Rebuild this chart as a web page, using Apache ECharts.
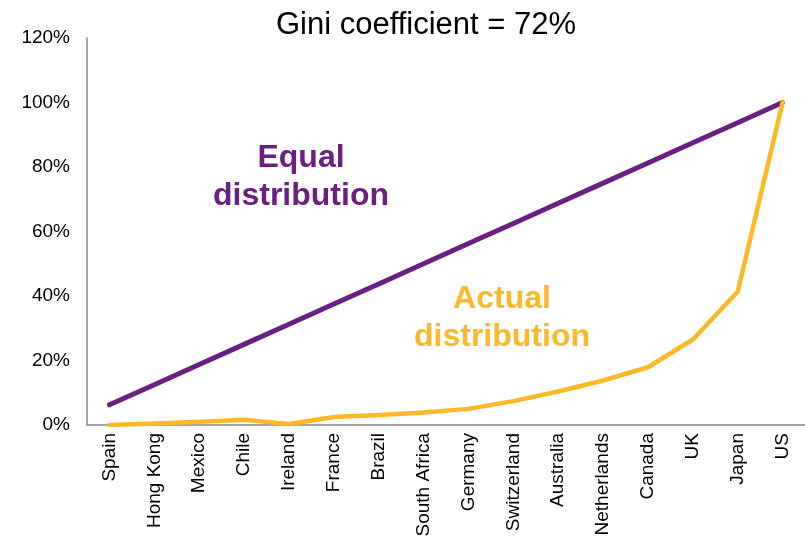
<!DOCTYPE html>
<html>
<head>
<meta charset="utf-8">
<script src="https://cdn.jsdelivr.net/npm/echarts@6/dist/echarts.min.js"></script>
<style>
  html, body { margin: 0; padding: 0; background: #fff; }
  #chart { width: 805px; height: 557px; }
</style>
</head>
<body>
<div id="chart"></div>
<script>
// 国家（按实际分布从低到高排列）
var countries = ["Spain", "Hong Kong", "Mexico", "Chile", "Ireland", "France", "Brazil",
  "South Africa", "Germany", "Switzerland", "Australia", "Netherlands", "Canada", "UK", "Japan", "US"];
// 平均分布（%）
var equalShare = [6.25, 12.5, 18.75, 25, 31.25, 37.5, 43.75, 50, 56.25, 62.5, 68.75, 75, 81.25, 87.5, 93.75, 100];
// 实际分布（%）
var actualShare = [0, 0.5, 1, 1.6, 0.3, 2.5, 3.1, 3.9, 5, 7.4, 10.4, 13.8, 17.9, 26.5, 41.3, 100];
var yTicks = [0, 20, 40, 60, 80, 100, 120];

var myChart = echarts.init(document.getElementById('chart'));
var option = {
  backgroundColor: '#fff',
  animation: false,
  title: {
    text: 'Gini coefficient = 72%',
    left: 421,
    top: 5,
    textAlign: 'center',
    textStyle: {
      fontFamily: 'Liberation Sans',
      fontSize: 31,
      fontWeight: 'normal',
      color: '#000'
    }
  },
  grid: {
    left: 87,
    right: -9,
    top: 38,
    bottom: 132
  },
  xAxis: {
    type: 'category',
    data: countries,
    boundaryGap: true,
    axisLine: { show: true, lineStyle: { color: '#888', width: 1.5 } },
    axisTick: { show: false },
    axisLabel: {
      rotate: 90,
      interval: 0,
      margin: 8,
      color: '#000',
      fontFamily: 'Liberation Sans',
      fontSize: 19
    },
    splitLine: { show: false }
  },
  yAxis: {
    type: 'value',
    min: yTicks[0],
    max: yTicks[yTicks.length - 1],
    interval: 20,
    axisLine: { show: true, lineStyle: { color: '#888', width: 1.5 } },
    axisTick: { show: false },
    axisLabel: {
      formatter: '{value}%',
      margin: 17,
      color: '#000',
      fontFamily: 'Liberation Sans',
      fontSize: 19
    },
    splitLine: { show: false }
  },
  series: [
    {
      name: 'Equal distribution',
      type: 'line',
      data: equalShare,
      symbol: 'none',
      lineStyle: { color: '#6b1f80', width: 5, cap: 'round' },
      z: 2
    },
    {
      name: 'Actual distribution',
      type: 'line',
      data: actualShare,
      symbol: 'none',
      lineStyle: { color: '#fdb827', width: 4.5, cap: 'round' },
      z: 3
    }
  ],
  graphic: [
    {
      type: 'text',
      x: 301, y: 177,
      style: {
        text: 'Equal\ndistribution',
        fill: '#6b1f80',
        font: 'bold 32px "Liberation Sans"',
        lineHeight: 38,
        align: 'center',
        verticalAlign: 'middle'
      }
    },
    {
      type: 'text',
      x: 502, y: 318,
      style: {
        text: 'Actual\ndistribution',
        fill: '#fdb827',
        font: 'bold 32px "Liberation Sans"',
        lineHeight: 38,
        align: 'center',
        verticalAlign: 'middle'
      }
    }
  ]
};
myChart.setOption(option);
</script>
</body>
</html>
